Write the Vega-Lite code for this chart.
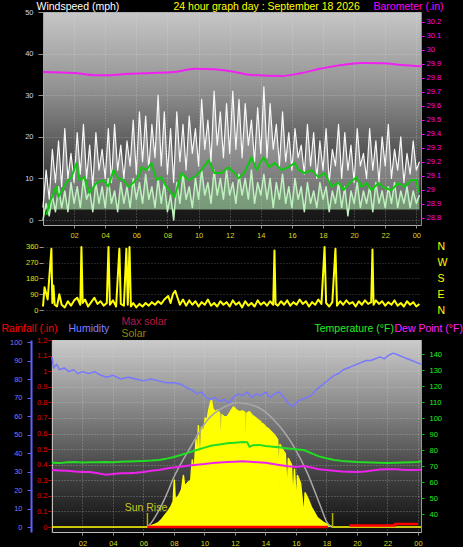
{
  "$schema": "https://vega.github.io/schema/vega-lite/v6.json",
  "background": "#000000",
  "padding": {"left": 0, "top": 1, "right": 0, "bottom": 0},
  "config": {
    "font": "Liberation Sans",
    "axis": {"labelFont": "Liberation Sans", "titleFont": "Liberation Sans", "labelFontSize": 7.5, "titleFontSize": 10.5, "titleFontWeight": "normal", "gridDash": [1, 2], "gridColor": "#e8e8e8", "gridOpacity": 0.4, "labelFlush": false, "labelOverlap": false},
    "line": {"strokeJoin": "round"}
  },
  "datasets": {
    "wind": [
      {"h":0,"gust":3,"avg":0},{"h":0.2,"gust":12,"avg":4},{"h":0.4,"gust":5,"avg":1},{"h":0.6,"gust":17,"avg":6},{"h":0.8,"gust":9,"avg":2},{"h":1,"gust":19,"avg":8},{"h":1.2,"gust":8,"avg":3},{"h":1.4,"gust":22,"avg":7},{"h":1.6,"gust":10,"avg":2},{"h":1.8,"gust":16,"avg":9},
      {"h":2,"gust":9,"avg":4},{"h":2.2,"gust":21,"avg":8},{"h":2.4,"gust":11,"avg":3},{"h":2.6,"gust":23,"avg":10},{"h":2.8,"gust":10,"avg":5},{"h":3,"gust":18,"avg":7},{"h":3.2,"gust":8,"avg":2},{"h":3.4,"gust":21,"avg":9},{"h":3.6,"gust":12,"avg":4},{"h":3.8,"gust":17,"avg":8},
      {"h":4,"gust":10,"avg":3},{"h":4.2,"gust":22,"avg":10},{"h":4.4,"gust":9,"avg":4},{"h":4.6,"gust":23,"avg":7},{"h":4.8,"gust":12,"avg":2},{"h":5,"gust":18,"avg":9},{"h":5.2,"gust":10,"avg":4},{"h":5.4,"gust":19,"avg":8},{"h":5.6,"gust":13,"avg":3},{"h":5.8,"gust":24,"avg":10},
      {"h":6,"gust":11,"avg":5},{"h":6.2,"gust":26,"avg":9},{"h":6.4,"gust":14,"avg":4},{"h":6.6,"gust":25,"avg":11},{"h":6.8,"gust":12,"avg":5},{"h":7,"gust":23,"avg":8},{"h":7.2,"gust":15,"avg":3},{"h":7.4,"gust":30,"avg":10},{"h":7.6,"gust":13,"avg":4},{"h":7.8,"gust":26,"avg":9},
      {"h":8,"gust":11,"avg":2},{"h":8.2,"gust":22,"avg":6},{"h":8.4,"gust":9,"avg":0},{"h":8.6,"gust":26,"avg":9},{"h":8.8,"gust":14,"avg":4},{"h":9,"gust":23,"avg":11},{"h":9.2,"gust":12,"avg":5},{"h":9.4,"gust":25,"avg":8},{"h":9.6,"gust":16,"avg":3},{"h":9.8,"gust":22,"avg":10},
      {"h":10,"gust":13,"avg":5},{"h":10.2,"gust":29,"avg":12},{"h":10.4,"gust":17,"avg":6},{"h":10.6,"gust":24,"avg":9},{"h":10.8,"gust":14,"avg":4},{"h":11,"gust":31,"avg":12},{"h":11.2,"gust":18,"avg":6},{"h":11.4,"gust":26,"avg":10},{"h":11.6,"gust":15,"avg":5},{"h":11.8,"gust":28,"avg":12},
      {"h":12,"gust":16,"avg":6},{"h":12.2,"gust":31,"avg":9},{"h":12.4,"gust":17,"avg":4},{"h":12.6,"gust":29,"avg":11},{"h":12.8,"gust":15,"avg":6},{"h":13,"gust":28,"avg":10},{"h":13.2,"gust":18,"avg":5},{"h":13.4,"gust":24,"avg":12},{"h":13.6,"gust":14,"avg":4},{"h":13.8,"gust":27,"avg":9},
      {"h":14,"gust":16,"avg":6},{"h":14.2,"gust":32,"avg":11},{"h":14.4,"gust":15,"avg":5},{"h":14.6,"gust":28,"avg":10},{"h":14.8,"gust":17,"avg":3},{"h":15,"gust":23,"avg":9},{"h":15.2,"gust":13,"avg":5},{"h":15.4,"gust":26,"avg":11},{"h":15.6,"gust":14,"avg":4},{"h":15.8,"gust":21,"avg":8},
      {"h":16,"gust":12,"avg":3},{"h":16.2,"gust":22,"avg":10},{"h":16.4,"gust":15,"avg":5},{"h":16.6,"gust":18,"avg":8},{"h":16.8,"gust":11,"avg":2},{"h":17,"gust":23,"avg":9},{"h":17.2,"gust":13,"avg":4},{"h":17.4,"gust":21,"avg":7},{"h":17.6,"gust":10,"avg":3},{"h":17.8,"gust":19,"avg":9},
      {"h":18,"gust":12,"avg":5},{"h":18.2,"gust":22,"avg":8},{"h":18.4,"gust":9,"avg":2},{"h":18.6,"gust":17,"avg":7},{"h":18.8,"gust":13,"avg":4},{"h":19,"gust":23,"avg":9},{"h":19.2,"gust":10,"avg":3},{"h":19.4,"gust":21,"avg":8},{"h":19.6,"gust":12,"avg":1},{"h":19.8,"gust":18,"avg":7},
      {"h":20,"gust":9,"avg":4},{"h":20.2,"gust":22,"avg":9},{"h":20.4,"gust":13,"avg":3},{"h":20.6,"gust":16,"avg":7},{"h":20.8,"gust":10,"avg":4},{"h":21,"gust":22,"avg":8},{"h":21.2,"gust":12,"avg":2},{"h":21.4,"gust":19,"avg":9},{"h":21.6,"gust":9,"avg":4},{"h":21.8,"gust":20,"avg":7},
      {"h":22,"gust":13,"avg":3},{"h":22.2,"gust":23,"avg":8},{"h":22.4,"gust":10,"avg":4},{"h":22.6,"gust":17,"avg":9},{"h":22.8,"gust":12,"avg":3},{"h":23,"gust":20,"avg":7},{"h":23.2,"gust":9,"avg":4},{"h":23.4,"gust":16,"avg":8},{"h":23.6,"gust":11,"avg":3},{"h":23.8,"gust":19,"avg":7},
      {"h":24,"gust":12,"avg":4},{"h":24.2,"gust":14,"avg":6}
    ],
    "windavg": [
      {"h":0.22,"ws":1.2},{"h":0.41,"ws":4},{"h":0.86,"ws":8},{"h":0.99,"ws":5.5},{"h":1.5,"ws":9},{"h":1.83,"ws":10.3},{"h":2.15,"ws":13.7},{"h":2.34,"ws":9.6},{"h":2.66,"ws":10.3},{"h":2.98,"ws":6.5},
      {"h":3.43,"ws":8.9},{"h":3.88,"ws":9.6},{"h":4.2,"ws":8},{"h":4.53,"ws":12},{"h":4.85,"ws":10},{"h":5.17,"ws":9.6},{"h":5.49,"ws":8},{"h":5.81,"ws":9},{"h":6.14,"ws":10.3},{"h":6.33,"ws":12.7},
      {"h":6.65,"ws":12},{"h":6.97,"ws":13.7},{"h":7.29,"ws":9.6},{"h":7.61,"ws":10.3},{"h":7.94,"ws":8},{"h":8.26,"ws":6.5},{"h":8.45,"ws":5.5},{"h":8.9,"ws":11.3},{"h":9.35,"ws":9.6},{"h":9.74,"ws":10.3},
      {"h":10.19,"ws":12},{"h":10.64,"ws":14.4},{"h":11.02,"ws":11.3},{"h":11.47,"ws":11.3},{"h":11.92,"ws":12.7},{"h":12.31,"ws":11.3},{"h":12.56,"ws":10},{"h":12.95,"ws":11.3},{"h":13.4,"ws":15.1},{"h":13.72,"ws":12},
      {"h":14.17,"ws":15.1},{"h":14.56,"ws":12.7},{"h":14.88,"ws":13.7},{"h":15.33,"ws":12},{"h":15.78,"ws":12.7},{"h":16.17,"ws":13.7},{"h":16.43,"ws":12},{"h":16.81,"ws":11.3},{"h":17.26,"ws":12},{"h":17.71,"ws":10.3},
      {"h":18.1,"ws":11.3},{"h":18.55,"ws":8},{"h":19,"ws":9},{"h":19.32,"ws":7.2},{"h":19.7,"ws":8.9},{"h":20.15,"ws":10.3},{"h":20.48,"ws":8},{"h":20.8,"ws":8.9},{"h":21.12,"ws":7.2},{"h":21.57,"ws":8.9},
      {"h":21.95,"ws":7.7},{"h":22.4,"ws":7.2},{"h":22.85,"ws":8.9},{"h":23.24,"ws":8},{"h":23.69,"ws":9.6},{"h":24.01,"ws":9.6},{"h":24.14,"ws":6.5}
    ],
    "baro": [
      {"h":0,"inHg":29.843},{"h":2,"inHg":29.836},{"h":3.3,"inHg":29.82},{"h":4.2,"inHg":29.82},{"h":5.5,"inHg":29.83},{"h":7,"inHg":29.836},{"h":8.45,"inHg":29.843},{"h":9.74,"inHg":29.866},{"h":11.02,"inHg":29.862},{"h":12.31,"inHg":29.843},
      {"h":13.4,"inHg":29.822},{"h":15.33,"inHg":29.814},{"h":16.62,"inHg":29.836},{"h":17.9,"inHg":29.868},{"h":19.19,"inHg":29.893},{"h":20.48,"inHg":29.907},{"h":21.77,"inHg":29.906},{"h":23.05,"inHg":29.893},{"h":24.3,"inHg":29.883}
    ],
    "dir": [
      {"h":0,"deg":20},{"h":0.1,"deg":130},{"h":0.3,"deg":60},{"h":0.54,"deg":350},{"h":0.6,"deg":40},{"h":0.67,"deg":140},{"h":0.75,"deg":30},{"h":0.9,"deg":20},{"h":1.05,"deg":90},{"h":1.2,"deg":30},
      {"h":1.4,"deg":15},{"h":1.6,"deg":50},{"h":1.8,"deg":25},{"h":2,"deg":55},{"h":2.2,"deg":70},{"h":2.4,"deg":30},{"h":2.47,"deg":360},{"h":2.55,"deg":40},{"h":2.7,"deg":60},{"h":2.9,"deg":20},
      {"h":3.1,"deg":45},{"h":3.3,"deg":70},{"h":3.5,"deg":35},{"h":3.7,"deg":50},{"h":3.9,"deg":25},{"h":4.1,"deg":40},{"h":4.21,"deg":360},{"h":4.3,"deg":30},{"h":4.5,"deg":55},{"h":4.7,"deg":20},
      {"h":4.91,"deg":350},{"h":5,"deg":35},{"h":5.2,"deg":25},{"h":5.36,"deg":350},{"h":5.45,"deg":30},{"h":5.56,"deg":360},{"h":5.65,"deg":20},{"h":5.8,"deg":40},{"h":6,"deg":15},{"h":6.2,"deg":35},
      {"h":6.4,"deg":20},{"h":6.6,"deg":40},{"h":6.8,"deg":25},{"h":7,"deg":45},{"h":7.2,"deg":30},{"h":7.4,"deg":50},{"h":7.6,"deg":35},{"h":7.8,"deg":60},{"h":8.05,"deg":80},{"h":8.2,"deg":40},
      {"h":8.35,"deg":90},{"h":8.5,"deg":110},{"h":8.65,"deg":70},{"h":8.8,"deg":30},{"h":9,"deg":60},{"h":9.2,"deg":25},{"h":9.4,"deg":55},{"h":9.6,"deg":30},{"h":9.8,"deg":50},{"h":10,"deg":20},
      {"h":10.2,"deg":45},{"h":10.4,"deg":30},{"h":10.6,"deg":60},{"h":10.8,"deg":25},{"h":11,"deg":40},{"h":11.2,"deg":20},{"h":11.4,"deg":50},{"h":11.6,"deg":30},{"h":11.8,"deg":45},{"h":12,"deg":20},
      {"h":12.2,"deg":55},{"h":12.4,"deg":30},{"h":12.6,"deg":45},{"h":12.8,"deg":15},{"h":13,"deg":50},{"h":13.2,"deg":25},{"h":13.4,"deg":40},{"h":13.6,"deg":20},{"h":13.8,"deg":55},{"h":14,"deg":30},
      {"h":14.2,"deg":45},{"h":14.4,"deg":25},{"h":14.6,"deg":50},{"h":14.8,"deg":30},{"h":14.88,"deg":340},{"h":14.95,"deg":35},{"h":15.1,"deg":25},{"h":15.3,"deg":50},{"h":15.5,"deg":30},{"h":15.7,"deg":55},
      {"h":15.9,"deg":25},{"h":16.1,"deg":45},{"h":16.3,"deg":30},{"h":16.5,"deg":60},{"h":16.7,"deg":35},{"h":16.9,"deg":50},{"h":17.1,"deg":20},{"h":17.3,"deg":45},{"h":17.5,"deg":30},{"h":17.7,"deg":60},
      {"h":17.9,"deg":35},{"h":18.1,"deg":360},{"h":18.2,"deg":40},{"h":18.4,"deg":20},{"h":18.6,"deg":45},{"h":18.8,"deg":350},{"h":18.9,"deg":25},{"h":19.1,"deg":50},{"h":19.3,"deg":30},{"h":19.5,"deg":55},
      {"h":19.7,"deg":35},{"h":19.9,"deg":45},{"h":20.1,"deg":20},{"h":20.3,"deg":50},{"h":20.5,"deg":30},{"h":20.7,"deg":55},{"h":20.9,"deg":35},{"h":21.1,"deg":45},{"h":21.18,"deg":345},{"h":21.25,"deg":30},
      {"h":21.4,"deg":55},{"h":21.6,"deg":35},{"h":21.8,"deg":50},{"h":22,"deg":25},{"h":22.2,"deg":45},{"h":22.4,"deg":30},{"h":22.6,"deg":55},{"h":22.8,"deg":25},{"h":23,"deg":40},{"h":23.2,"deg":20},
      {"h":23.4,"deg":50},{"h":23.6,"deg":30},{"h":23.8,"deg":45},{"h":24,"deg":20},{"h":24.2,"deg":35}
    ],
    "solar": [
      {"h":0,"wm2":0},{"h":6.2,"wm2":0},{"h":6.5,"wm2":8},{"h":6.8,"wm2":20},{"h":7,"wm2":30},{"h":7.2,"wm2":50},{"h":7.4,"wm2":75},{"h":7.6,"wm2":100},{"h":7.8,"wm2":130},{"h":7.95,"wm2":165},
      {"h":8.02,"wm2":300},{"h":8.08,"wm2":175},{"h":8.3,"wm2":200},{"h":8.5,"wm2":240},{"h":8.62,"wm2":330},{"h":8.7,"wm2":260},{"h":8.9,"wm2":285},{"h":9.1,"wm2":300},{"h":9.2,"wm2":430},{"h":9.3,"wm2":320},
      {"h":9.45,"wm2":560},{"h":9.54,"wm2":350},{"h":9.6,"wm2":650},{"h":9.71,"wm2":330},{"h":9.8,"wm2":640},{"h":9.95,"wm2":610},{"h":10.05,"wm2":700},{"h":10.15,"wm2":680},{"h":10.3,"wm2":760},{"h":10.45,"wm2":815},
      {"h":10.55,"wm2":760},{"h":10.7,"wm2":740},{"h":10.85,"wm2":750},{"h":11,"wm2":730},{"h":11.07,"wm2":400},{"h":11.15,"wm2":720},{"h":11.3,"wm2":706},{"h":11.5,"wm2":710},{"h":11.7,"wm2":740},{"h":11.9,"wm2":770},
      {"h":12.1,"wm2":750},{"h":12.3,"wm2":740},{"h":12.5,"wm2":745},{"h":12.65,"wm2":735},{"h":12.71,"wm2":180},{"h":12.78,"wm2":730},{"h":12.95,"wm2":740},{"h":13.1,"wm2":720},{"h":13.3,"wm2":706},{"h":13.5,"wm2":690},
      {"h":13.7,"wm2":675},{"h":13.75,"wm2":300},{"h":13.8,"wm2":665},{"h":14,"wm2":645},{"h":14.2,"wm2":630},{"h":14.4,"wm2":610},{"h":14.6,"wm2":590},{"h":14.8,"wm2":560},{"h":14.89,"wm2":230},{"h":14.95,"wm2":530},
      {"h":15.1,"wm2":500},{"h":15.3,"wm2":470},{"h":15.44,"wm2":180},{"h":15.5,"wm2":440},{"h":15.7,"wm2":400},{"h":15.81,"wm2":150},{"h":15.9,"wm2":370},{"h":16.05,"wm2":120},{"h":16.1,"wm2":330},{"h":16.3,"wm2":280},
      {"h":16.53,"wm2":60},{"h":16.6,"wm2":220},{"h":16.8,"wm2":180},{"h":17,"wm2":130},{"h":17.2,"wm2":95},{"h":17.4,"wm2":60},{"h":17.6,"wm2":45},{"h":17.8,"wm2":30},{"h":18,"wm2":20},{"h":18.2,"wm2":10},
      {"h":18.4,"wm2":0},{"h":24.2,"wm2":0}
    ],
    "maxsolar": [
      {"h":6.26,"wm2":0},{"h":6.48,"wm2":24},{"h":7.35,"wm2":173},{"h":8.01,"wm2":323},{"h":9.1,"wm2":515},{"h":10.2,"wm2":687},{"h":11.29,"wm2":770},{"h":12.16,"wm2":798},{"h":13.48,"wm2":770},{"h":14.56,"wm2":687},
      {"h":15.88,"wm2":513},{"h":16.75,"wm2":346},{"h":17.63,"wm2":128},{"h":18.07,"wm2":24},{"h":18.3,"wm2":0}
    ],
    "sun": [{"event":"Sun Rise","h":6.26},{"event":"Sun Set","h":18.4}],
    "temp": [
      {"h":0,"f":72},{"h":0.5,"f":71.8},{"h":1,"f":72.3},{"h":1.5,"f":72.5},{"h":2,"f":72.2},{"h":2.5,"f":72.4},{"h":3,"f":72.3},{"h":3.5,"f":72.5},{"h":4,"f":72.4},{"h":4.5,"f":72.6},
      {"h":5,"f":72.8},{"h":5.5,"f":73},{"h":6,"f":73.2},{"h":6.5,"f":73.4},{"h":7,"f":73.8},{"h":7.5,"f":74.6},{"h":8,"f":75.6},{"h":8.5,"f":77},{"h":9,"f":78.5},{"h":9.5,"f":80},
      {"h":10,"f":81.5},{"h":10.5,"f":82.8},{"h":11,"f":83.5},{"h":11.5,"f":84.2},{"h":12,"f":84.6},{"h":12.5,"f":85},{"h":12.8,"f":84.8},{"h":12.95,"f":82},{"h":13.2,"f":83},{"h":13.6,"f":83.2},
      {"h":14,"f":82.5},{"h":14.5,"f":82},{"h":15,"f":81.5},{"h":15.5,"f":81},{"h":16,"f":80.5},{"h":16.5,"f":80},{"h":17,"f":78},{"h":17.5,"f":76},{"h":18,"f":74.8},{"h":18.5,"f":73.8},
      {"h":19,"f":73.2},{"h":19.5,"f":72.8},{"h":20,"f":72.5},{"h":21,"f":72.2},{"h":22,"f":71.9},{"h":22.5,"f":72},{"h":23,"f":72.2},{"h":23.5,"f":72.3},{"h":24,"f":72.5},{"h":24.2,"f":73}
    ],
    "dew": [
      {"h":0,"f":67.5},{"h":0.5,"f":67.2},{"h":1,"f":67},{"h":1.5,"f":66.5},{"h":2,"f":66.2},{"h":2.5,"f":66.3},{"h":3,"f":65.5},{"h":3.5,"f":64.6},{"h":4,"f":65},{"h":4.5,"f":65.4},
      {"h":5,"f":65.5},{"h":5.5,"f":65.8},{"h":6,"f":66.3},{"h":6.5,"f":67},{"h":7,"f":67.5},{"h":7.5,"f":68.5},{"h":8,"f":69},{"h":8.5,"f":69.7},{"h":9,"f":70.3},{"h":9.5,"f":70.8},
      {"h":10,"f":71.2},{"h":10.5,"f":71.8},{"h":11,"f":72.2},{"h":11.5,"f":72.5},{"h":12,"f":72.7},{"h":12.5,"f":73},{"h":13,"f":72.6},{"h":13.5,"f":72.3},{"h":14,"f":72},{"h":14.5,"f":71.2},
      {"h":15,"f":70.5},{"h":15.5,"f":69.8},{"h":16,"f":69.4},{"h":16.5,"f":70},{"h":17,"f":69},{"h":17.5,"f":68},{"h":18,"f":67.5},{"h":18.5,"f":67},{"h":19,"f":66.6},{"h":19.5,"f":66.4},
      {"h":20,"f":66.2},{"h":20.5,"f":66.5},{"h":21,"f":67.2},{"h":21.5,"f":67.8},{"h":22,"f":68},{"h":22.5,"f":67.9},{"h":23,"f":67.6},{"h":23.5,"f":67.5},{"h":24,"f":67.5},{"h":24.2,"f":67.8}
    ],
    "hum": [
      {"h":0,"pct":92},{"h":0.1,"pct":86},{"h":0.3,"pct":88},{"h":0.5,"pct":85},{"h":0.8,"pct":86},{"h":1.1,"pct":84},{"h":1.4,"pct":85},{"h":1.7,"pct":83},{"h":2,"pct":84},{"h":2.4,"pct":83},
      {"h":2.8,"pct":84},{"h":3.2,"pct":82},{"h":3.6,"pct":81},{"h":4,"pct":82},{"h":4.5,"pct":80},{"h":5,"pct":81},{"h":5.5,"pct":80},{"h":6,"pct":79},{"h":6.5,"pct":80},{"h":7,"pct":79},
      {"h":7.5,"pct":78},{"h":8,"pct":78},{"h":8.5,"pct":77},{"h":8.9,"pct":75},{"h":9.2,"pct":74},{"h":9.5,"pct":72},{"h":9.8,"pct":73},{"h":10.1,"pct":70},{"h":10.4,"pct":69},{"h":10.7,"pct":70},
      {"h":11,"pct":68},{"h":11.3,"pct":69},{"h":11.6,"pct":67},{"h":11.9,"pct":70},{"h":12.2,"pct":72},{"h":12.5,"pct":71},{"h":12.8,"pct":73},{"h":13.1,"pct":70},{"h":13.4,"pct":72},{"h":13.7,"pct":71},
      {"h":14,"pct":73},{"h":14.3,"pct":70},{"h":14.6,"pct":72},{"h":14.9,"pct":73},{"h":15.2,"pct":70},{"h":15.5,"pct":67},{"h":15.8,"pct":65},{"h":16.1,"pct":68},{"h":16.4,"pct":69},{"h":16.7,"pct":70},
      {"h":17,"pct":71},{"h":17.3,"pct":74},{"h":17.6,"pct":76},{"h":17.9,"pct":78},{"h":18.2,"pct":80},{"h":18.5,"pct":82},{"h":18.8,"pct":83},{"h":19.1,"pct":85},{"h":19.4,"pct":86},{"h":19.7,"pct":87},
      {"h":20,"pct":88},{"h":20.3,"pct":89},{"h":20.6,"pct":90},{"h":20.9,"pct":90},{"h":21.2,"pct":91},{"h":21.5,"pct":92},{"h":21.8,"pct":91},{"h":22.1,"pct":93},{"h":22.4,"pct":94},{"h":22.7,"pct":93},
      {"h":23,"pct":92},{"h":23.3,"pct":91},{"h":23.6,"pct":90},{"h":23.9,"pct":89},{"h":24.2,"pct":88}
    ],
    "rain": [
      {"h":6.26,"inch":0,"seg":"a"},{"h":18.1,"inch":0,"seg":"a"},
      {"h":19.5,"inch":0.01,"seg":"b"},{"h":22.5,"inch":0.02,"seg":"b"},{"h":24,"inch":0.02,"seg":"b"}
    ]
  },
  "spacing": 19,
  "bounds": "flush",
  "vconcat": [
    {
      "width": 378,
      "height": 213,
      "view": {"stroke": "#a8a8a8", "fill": {"gradient": "linear", "x1": 0, "y1": 0, "x2": 0, "y2": 1, "stops": [{"offset": 0, "color": "#c6c6c6"}, {"offset": 0.35, "color": "#939393"}, {"offset": 0.7, "color": "#4a4a4a"}, {"offset": 0.9, "color": "#1e1e1e"}, {"offset": 1, "color": "#141414"}]}},
      "encoding": {
        "x": {"field": "h", "type": "quantitative", "scale": {"domain": [0, 24.3], "nice": false, "zero": false},
          "axis": {"values": [2,4,6,8,10,12,14,16,18,20,22,24], "labelExpr": "datum.value == 24 ? '00' : (datum.value < 10 ? '0' + datum.value : '' + datum.value)", "labelColor": "#d8d820", "tickColor": "#909090", "tickSize": 3, "labelPadding": 3, "domain": false, "grid": true,
            "title": "24 hour graph day : September 18 2026", "titleColor": "#ffff00", "titleAngle": 0, "titleAlign": "left", "titleBaseline": "alphabetic", "titleX": 130, "titleY": -215.5}}
      },
      "layer": [
        {
          "layer": [
            {"data": {"name": "wind"}, "mark": {"type": "area", "color": "#ffffff", "opacity": 0.35},
              "encoding": {"y": {"field": "gust", "type": "quantitative", "scale": {"domain": [-1.2, 50], "nice": false, "zero": false},
                "axis": {"values": [0,5,10,15,20,25,30,35,40,45,50], "labelColor": "#c8d8ff", "tickColor": "#909090", "tickSize": 5, "labelPadding": 5, "domain": false, "grid": true,
                  "title": "Windspeed (mph)", "titleColor": "#ffffff", "titleAngle": 0, "titleAlign": "left", "titleBaseline": "alphabetic", "titleX": -7, "titleY": -2.5}},
                "y2": {"field": "avg"}}},
            {"data": {"name": "wind"}, "mark": {"type": "line", "color": "#f8f8f8", "strokeWidth": 1.2},
              "encoding": {"y": {"field": "gust", "type": "quantitative"}}},
            {"data": {"name": "wind"}, "mark": {"type": "area", "color": "#b8eeb8", "opacity": 0.6},
              "encoding": {"y": {"field": "avg", "type": "quantitative"}, "y2": {"datum": 2.5}}},
            {"data": {"name": "wind"}, "mark": {"type": "line", "color": "#c0f2c0", "strokeWidth": 1.5},
              "encoding": {"y": {"field": "avg", "type": "quantitative"}}},
            {"data": {"name": "windavg"}, "mark": {"type": "line", "color": "#10c810", "strokeWidth": 2},
              "encoding": {"y": {"field": "ws", "type": "quantitative"}}}
          ]
        },
        {"data": {"name": "baro"}, "mark": {"type": "line", "color": "#f020f0", "strokeWidth": 2, "interpolate": "monotone"},
          "encoding": {"y": {"field": "inHg", "type": "quantitative", "scale": {"domain": [28.75, 30.2714], "nice": false, "zero": false},
            "axis": {"orient": "right", "values": [28.8,28.9,29,29.1,29.2,29.3,29.4,29.5,29.6,29.7,29.8,29.9,30,30.1,30.2], "format": "~g", "labelColor": "#ff00ff", "tickColor": "#ff00ff", "tickSize": 3, "labelPadding": 2, "domain": true, "domainColor": "#ff00ff", "domainDash": [1, 1], "grid": false,
              "title": "Barometer (.in)", "titleColor": "#ff00ff", "titleAngle": 0, "titleAlign": "left", "titleBaseline": "alphabetic", "titleX": -48, "titleY": -2.5}}}}
      ],
      "resolve": {"scale": {"y": "independent"}}
    },
    {
      "width": 378,
      "height": 77,
      "view": {"stroke": null, "fill": null},
      "encoding": {
        "x": {"field": "h", "type": "quantitative", "scale": {"domain": [0, 24.3], "nice": false, "zero": false},
          "axis": null}
      },
      "layer": [
        {"mark": {"type": "rect", "stroke": "#a8a8a8", "strokeWidth": 1, "fill": {"gradient": "linear", "x1": 0, "y1": 0, "x2": 0, "y2": 1, "stops": [{"offset": 0, "color": "#c8c8c8"}, {"offset": 0.5, "color": "#7a7a7a"}, {"offset": 1, "color": "#1e1e1e"}]}},
          "encoding": {"x": {"datum": 0, "type": "quantitative"}, "x2": {"datum": 24.3}, "y": {"datum": -17, "type": "quantitative", "scale": {"domain": [-62.7, 377], "nice": false, "zero": false}, "axis": null}, "y2": {"datum": 377}}},
        {"data": {"name": "dir"}, "mark": {"type": "line", "color": "#ffff00", "strokeWidth": 2},
          "encoding": {"x": {"field": "h", "type": "quantitative"}, "y": {"field": "deg", "type": "quantitative", "scale": {"domain": [-62.7, 377], "nice": false, "zero": false},
            "axis": {"values": [0,90,180,270,360], "labelColor": "#e0e000", "tickColor": "#909090", "tickSize": 4, "labelPadding": 1, "domain": false, "grid": true, "gridOpacity": 0.3, "zindex": 1, "title": null}}}},
        {"data": {"name": "dir"}, "mark": {"type": "line", "opacity": 0},
          "encoding": {"x": {"field": "h", "type": "quantitative"}, "y": {"field": "deg", "type": "quantitative", "scale": {"domain": [-62.7, 377], "nice": false, "zero": false},
            "axis": {"orient": "right", "values": [0,90,180,270,360], "labelExpr": "datum.value == 0 ? 'N' : datum.value == 90 ? 'E' : datum.value == 180 ? 'S' : datum.value == 270 ? 'W' : 'N'", "labelColor": "#ffff00", "labelFontSize": 10.5, "ticks": false, "domain": false, "grid": false, "labelPadding": 16, "title": null}}}}
      ],
      "resolve": {"scale": {"y": "independent"}}
    },
    {
      "spacing": 8,
      "bounds": "flush",
      "hconcat": [
        {"width": 1, "height": 1, "data": {"values": []}, "mark": {"type": "point", "opacity": 0}, "view": {"stroke": null, "fill": null}},
        {
          "width": 369,
          "height": 192,
          "view": {"stroke": "#c0c0c0", "fill": {"gradient": "linear", "x1": 0, "y1": 0, "x2": 0, "y2": 1, "stops": [{"offset": 0, "color": "#cacaca"}, {"offset": 0.3, "color": "#929292"}, {"offset": 0.65, "color": "#4a4a4a"}, {"offset": 1, "color": "#0e0e0e"}]}},
          "encoding": {
            "x": {"field": "h", "type": "quantitative", "scale": {"domain": [0, 24.2], "nice": false, "zero": false},
              "axis": {"values": [2,4,6,8,10,12,14,16,18,20,22,24], "labelExpr": "datum.value == 24 ? '00' : (datum.value < 10 ? '0' + datum.value : '' + datum.value)", "labelColor": "#d8d820", "tickColor": "#909090", "tickSize": 3, "labelPadding": 4, "domain": false, "grid": true, "title": null}}
          },
          "layer": [
            {"data": {"name": "solar"}, "mark": {"type": "area", "color": "#ffff00", "opacity": 1, "fillOpacity": 1, "line": {"color": "#ffff00", "strokeWidth": 1.5}},
              "encoding": {"y": {"field": "wm2", "type": "quantitative", "scale": {"domain": [-32, 1200], "nice": false, "zero": false},
                "axis": {"orient": "left", "labels": false, "ticks": false, "domain": false, "grid": false, "title": "Solar", "titleColor": "#8c8c00", "titleAngle": 0, "titleAlign": "left", "titleBaseline": "alphabetic", "titleX": 69, "titleY": -4}}}},
            {"data": {"name": "maxsolar"}, "mark": {"type": "line", "color": "#a8a8a8", "strokeWidth": 1.5, "interpolate": "monotone"},
              "encoding": {"y": {"field": "wm2", "type": "quantitative", "scale": {"domain": [-32, 1200], "nice": false, "zero": false},
                "axis": {"orient": "left", "labels": false, "ticks": false, "domain": false, "grid": false, "title": "Max solar", "titleColor": "#b81848", "titleAngle": 0, "titleAlign": "left", "titleBaseline": "alphabetic", "titleX": 69, "titleY": -16}}}},
            {"data": {"name": "sun"}, "mark": {"type": "rule", "color": "#b0b000", "strokeWidth": 1.5},
              "encoding": {"y": {"datum": 0, "type": "quantitative", "scale": {"domain": [-32, 1200], "nice": false, "zero": false}, "axis": null}, "y2": {"datum": 90}}},
            {"data": {"name": "sun"}, "transform": [{"filter": "datum.event == 'Sun Rise'"}], "mark": {"type": "text", "color": "#c8c820", "fontSize": 10.5, "font": "Liberation Sans", "align": "center", "baseline": "alphabetic", "dy": -16, "dx": -1.5},
              "encoding": {"text": {"field": "event"}, "y": {"datum": 0, "type": "quantitative", "scale": {"domain": [-32, 1200], "nice": false, "zero": false}, "axis": null}}},
            {"data": {"name": "dew"}, "mark": {"type": "line", "color": "#ee22ee", "strokeWidth": 2},
              "encoding": {"y": {"field": "f", "type": "quantitative", "scale": {"domain": [28.75, 148.75], "nice": false, "zero": false},
                "axis": {"orient": "right", "labels": false, "ticks": false, "domain": false, "grid": false, "title": "Dew Point (°F)", "titleColor": "#ff22ff", "titleAngle": 0, "titleAlign": "left", "titleBaseline": "alphabetic", "titleX": -27, "titleY": -9}}}},
            {"data": {"name": "temp"}, "mark": {"type": "line", "color": "#22dd22", "strokeWidth": 2},
              "encoding": {"y": {"field": "f", "type": "quantitative", "scale": {"domain": [28.75, 148.75], "nice": false, "zero": false},
                "axis": {"orient": "right", "values": [40,50,60,70,80,90,100,110,120,130,140], "labelColor": "#22ee22", "tickColor": "#00c000", "tickSize": 3, "labelPadding": 5, "domain": true, "domainColor": "#00c000", "domainDash": [1, 1], "grid": false,
                  "title": "Temperature (°F)", "titleColor": "#22ee22", "titleAngle": 0, "titleAlign": "left", "titleBaseline": "alphabetic", "titleX": -107, "titleY": -9}}}},
            {"data": {"name": "hum"}, "mark": {"type": "line", "color": "#7878ff", "strokeWidth": 1.5},
              "encoding": {"y": {"field": "pct", "type": "quantitative", "scale": {"domain": [-2.7, 101.1], "nice": false, "zero": false},
                "axis": {"orient": "left", "offset": 21, "values": [0,10,20,30,40,50,60,70,80,90,100], "labelColor": "#7878ff", "tickColor": "#6060ff", "tickSize": 4, "labelPadding": 5, "domain": true, "domainColor": "#6060ff", "domainWidth": 2, "grid": false,
                  "title": "Humidity", "titleColor": "#8080ff", "titleAngle": 0, "titleAlign": "left", "titleBaseline": "alphabetic", "titleX": 37, "titleY": -9}}}},
            {"data": {"name": "rain"}, "mark": {"type": "line", "color": "#ff0000", "strokeWidth": 2.5, "interpolate": "step-after"},
              "encoding": {"detail": {"field": "seg"}, "y": {"field": "inch", "type": "quantitative", "scale": {"domain": [-0.032, 1.2], "nice": false, "zero": false},
                "axis": {"orient": "left", "offset": 1, "values": [0,0.1,0.2,0.3,0.4,0.5,0.6,0.7,0.8,0.9,1,1.1,1.2], "format": "~g", "labelColor": "#e00000", "tickColor": "#e00000", "tickSize": 3, "labelPadding": 1, "domain": true, "domainColor": "#e00000", "domainDash": [1, 1], "grid": true,
                  "title": "Rainfall (.in)", "titleColor": "#ff0000", "titleAngle": 0, "titleAlign": "left", "titleBaseline": "alphabetic", "titleX": -50, "titleY": -9}}}}
          ],
          "resolve": {"scale": {"y": "independent"}}
        }
      ]
    }
  ]
}
